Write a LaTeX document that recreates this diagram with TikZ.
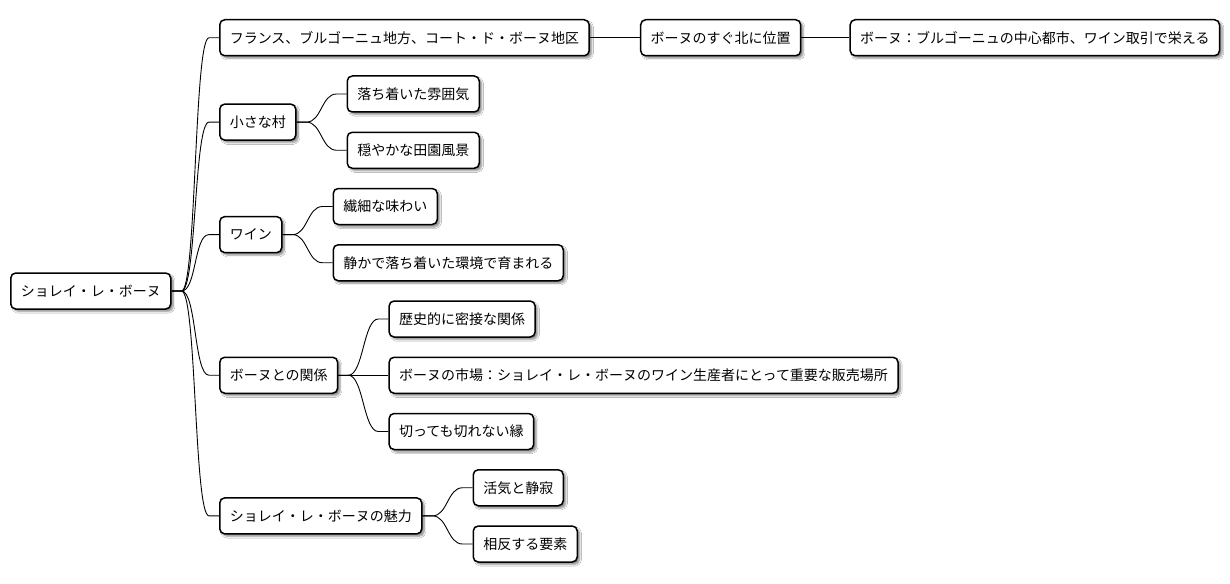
\documentclass[tikz,border=0pt]{standalone}
\usepackage{fontspec}
\newfontfamily\cjk{Noto Sans CJK JP}
\usetikzlibrary{calc,shadows.blur}
\tikzset{
  box/.style={draw=black, line width=1.5pt, rounded corners=5pt, fill=white,
    anchor=west, inner xsep=10pt, inner ysep=0pt, minimum height=36pt,
    font=\cjk\fontsize{14pt}{16pt}\selectfont,
    blur shadow={shadow xshift=2.5pt, shadow yshift=-2.5pt, shadow blur steps=6, shadow opacity=45}},
  conn/.style={draw=black, line width=0.9pt},
}
\newcommand\mmconn[2]{\draw[conn] (#1.east) -- ++(10,0) .. controls +(15,0) and +(-15,0) .. ($(#2.west)+(-10,0)$) -- (#2.west);}
\begin{document}
\begin{tikzpicture}[x=1pt,y=1pt]
\useasboundingbox[fill=white] (0,0) rectangle (1230,-583);
\node[box] (root) at (10,-291) {ショレイ・レ・ボーヌ};
\node[box] (a) at (219,-37.75) {フランス、ブルゴーニュ地方、コート・ド・ボーヌ地区};
\node[box] (a1) at ($(a.east)+(50,0)$) {ボーヌのすぐ北に位置};
\node[box] (a2) at ($(a1.east)+(48,0)$) {ボーヌ：ブルゴーニュの中心都市、ワイン取引で栄える};
\node[box] (b) at (219,-122.125) {小さな村};
\node[box] (b1) at ($(b.east)+(50,28.125)$) {落ち着いた雰囲気};
\node[box] (b2) at ($(b.east)+(50,-28.125)$) {穏やかな田園風景};
\node[box] (c) at (219,-234.625) {ワイン};
\node[box] (c1) at ($(c.east)+(50,28.125)$) {繊細な味わい};
\node[box] (c2) at ($(c.east)+(50,-28.125)$) {静かで落ち着いた環境で育まれる};
\node[box] (d) at (219,-375.25) {ボーヌとの関係};
\node[box] (d1) at ($(d.east)+(50,56.25)$) {歴史的に密接な関係};
\node[box] (d2) at ($(d.east)+(50,0)$) {ボーヌの市場：ショレイ・レ・ボーヌのワイン生産者にとって重要な販売場所};
\node[box] (d3) at ($(d.east)+(50,-56.25)$) {切っても切れない縁};
\node[box] (e) at (219,-515.875) {ショレイ・レ・ボーヌの魅力};
\node[box] (e1) at ($(e.east)+(50,28.125)$) {活気と静寂};
\node[box] (e2) at ($(e.east)+(50,-28.125)$) {相反する要素};
\mmconn{root}{a}
\mmconn{root}{b}
\mmconn{root}{c}
\mmconn{root}{d}
\mmconn{root}{e}
\mmconn{a}{a1}
\mmconn{a1}{a2}
\mmconn{b}{b1}
\mmconn{b}{b2}
\mmconn{c}{c1}
\mmconn{c}{c2}
\mmconn{d}{d1}
\mmconn{d}{d2}
\mmconn{d}{d3}
\mmconn{e}{e1}
\mmconn{e}{e2}
\end{tikzpicture}
\end{document}
